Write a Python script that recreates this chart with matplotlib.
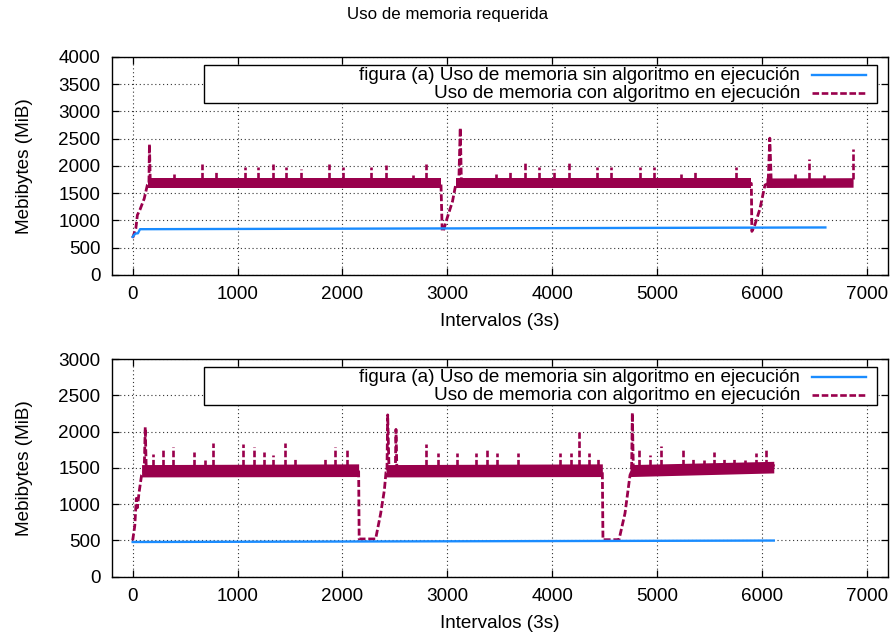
import matplotlib
matplotlib.use("Agg")
import matplotlib.pyplot as plt
from matplotlib.patches import Rectangle

plt.rcParams['font.family'] = ['Liberation Sans', 'DejaVu Sans']

BLUE = '#1a8cff'
RED = '#99004c'

# ---------------- data : top panel ----------------
top_blue_x = [0, 25, 50, 70, 6606]
top_blue_y = [700, 760, 765, 840, 872]

top_red_x = [0, 30, 45, 70, 110, 140, 155, 160, 168, 2940, 2952, 2965, 3000, 3050,
             3080, 3110, 3124, 3135, 5900, 5905, 5930, 5980, 6030, 6060, 6076, 6090, 6870]
top_red_y = [680, 850, 1100, 1200, 1400, 1650, 1680, 2400, 1680, 1680, 800, 820, 1050, 1350,
             1650, 1680, 2700, 1680, 1680, 800, 900, 1200, 1650, 1680, 2510, 1680, 1700]

top_band_x = [[150, 2945], [3085, 5900], [6040, 6870]]
top_band_lo = [[1600, 1600], [1605, 1605], [1605, 1610]]
top_band_hi = [[1775, 1775], [1780, 1780], [1780, 1785]]

top_spike_x = [390, 660, 797, 1067, 1194, 1337, 1463, 1606, 1870, 2003, 2273, 2416, 2670, 2797,
               3463, 3600, 3743, 3876, 4022, 4162, 4429, 4565, 4838, 4971, 5229, 5362, 5749,
               6314, 6448, 6590, 6870]
top_spike_y = [1850, 2040, 1900, 1990, 1990, 2040, 1990, 1950, 2040, 1990, 1980, 2010, 1840, 2040,
               1850, 1900, 2080, 1990, 1950, 2080, 1990, 1990, 1980, 1980, 1860, 1920, 1980,
               1860, 2130, 1840, 2310]
top_spike_base = 1760

# ---------------- data : bottom panel ----------------
bot_blue_x = [0, 6114]
bot_blue_y = [478, 498]

bot_red_x = [0, 20, 35, 45, 60, 85, 110, 120, 130, 2155, 2160, 2317, 2365, 2400, 2416,
             2425, 2432, 2445, 2505, 2511, 2520, 4479, 4485, 4638, 4695, 4743, 4758, 4765,
             4775, 6100, 6114]
bot_red_y = [500, 700, 1080, 950, 1150, 1400, 1450, 2060, 1450, 1450, 520, 520, 870, 1190, 1440,
             1450, 2230, 1450, 1450, 2030, 1450, 1450, 510, 510, 873, 1400, 1450, 2260,
             1450, 1480, 1550]

bot_band_x = [[85, 2155], [2416, 4479], [4743, 6114]]
bot_band_lo = [[1375, 1380], [1375, 1380], [1380, 1430]]
bot_band_hi = [[1545, 1555], [1545, 1555], [1545, 1590]]

bot_spike_x = [194, 289, 384, 584, 686, 765, 1050, 1156, 1250, 1343, 1448, 1546, 1838, 1933, 2041,
               2797, 2908, 3089, 3273, 3378, 3479, 3676, 4073, 4184, 4257, 4352, 4441,
               4829, 4933, 5035, 5250, 5346, 5448, 5543, 5638, 5733, 5838, 5940, 6044]
bot_spike_y = [1690, 1755, 1783, 1723, 1608, 1838, 1824, 1792, 1714, 1677, 1838, 1645, 1650, 1790, 1740,
               1830, 1700, 1710, 1700, 1740, 1710, 1710, 1700, 1710, 1990, 1710, 1645,
               1778, 1680, 1800, 1780, 1645, 1610, 1720, 1645, 1650, 1610, 1710, 1770]
bot_spike_base = 1530

title = 'Uso de memoria requerida'
xlabel = 'Intervalos (3s)'
ylabel = 'Mebibytes (MiB)'
label_blue = 'figura (a) Uso de memoria sin algoritmo en ejecución'
label_red = 'Uso de memoria con algoritmo en ejecución'

FS = 13.6
DASH = (0, (2.5, 1.0))

fig = plt.figure(figsize=(8.95, 6.38), dpi=100)
ax1 = fig.add_axes([0.1248, 0.569, 0.867, 0.3417])
ax2 = fig.add_axes([0.1248, 0.0961, 0.867, 0.3412])


def draw(ax, bx, by, rx, ry, band_x, band_lo, band_hi, sx, sy, sbase, ymax):
    for xs, lo, hi in zip(band_x, band_lo, band_hi):
        ax.fill_between(xs, lo, hi, color=RED, lw=0, zorder=3)
    ax.plot(rx, ry, color=RED, lw=2.0, linestyle=DASH, zorder=3)
    ax.vlines(sx, sbase, sy, color=RED, lw=1.9, linestyles=[DASH], zorder=3)
    ax.plot(bx, by, color=BLUE, lw=1.7, zorder=4)

    ax.set_xlim(-200, 7200)
    ax.set_ylim(0, ymax)
    ax.set_xticks(range(0, 7001, 1000))
    ax.set_yticks(range(0, ymax + 1, 500))
    ax.tick_params(direction='in', top=True, right=True, length=5, width=0.9,
                   labelsize=FS, pad=8)
    for s in ax.spines.values():
        s.set_linewidth(1.0)
    ax.grid(True, color='#333333', linestyle=(0, (1, 2.5)), lw=0.8, zorder=1)
    ax.set_axisbelow(True)
    ax.set_xlabel(xlabel, fontsize=FS, labelpad=7)
    ax.set_ylabel(ylabel, fontsize=FS)
    ax.yaxis.set_label_coords(-0.101, 0.5)

    # gnuplot style key
    ax.add_patch(Rectangle((0.119, 0.789), 0.867, 0.174, transform=ax.transAxes,
                           facecolor='white', edgecolor='black', lw=1.0, zorder=6))
    ax.text(0.887, 0.915, label_blue, transform=ax.transAxes, ha='right', va='center',
            fontsize=FS, zorder=7)
    ax.text(0.887, 0.831, label_red, transform=ax.transAxes, ha='right', va='center',
            fontsize=FS, zorder=7)
    ax.plot([0.903, 0.972], [0.917, 0.917], transform=ax.transAxes, color=BLUE, lw=1.7,
            zorder=7)
    ax.plot([0.903, 0.972], [0.833, 0.833], transform=ax.transAxes, color=RED, lw=1.9,
            linestyle=DASH, zorder=7)


draw(ax1, top_blue_x, top_blue_y, top_red_x, top_red_y, top_band_x, top_band_lo, top_band_hi,
     top_spike_x, top_spike_y, top_spike_base, 4000)
draw(ax2, bot_blue_x, bot_blue_y, bot_red_x, bot_red_y, bot_band_x, bot_band_lo, bot_band_hi,
     bot_spike_x, bot_spike_y, bot_spike_base, 3000)

fig.text(0.5, 1 - 15 / 638, title, ha='center', va='center', fontsize=12.2)

fig.savefig('out.png', dpi=100)
